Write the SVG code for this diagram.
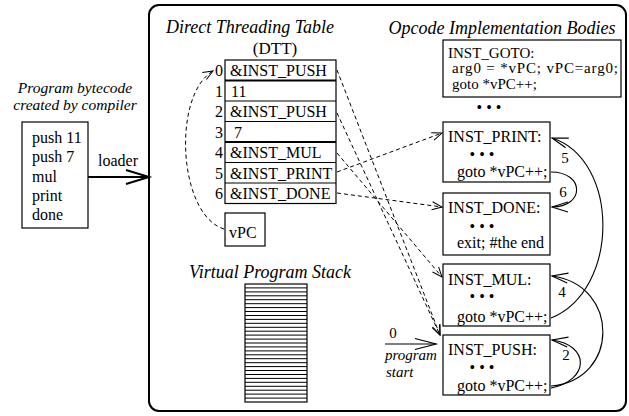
<svg xmlns="http://www.w3.org/2000/svg" width="629" height="416" viewBox="0 0 629 416">
<defs>
<style>
text{font-family:"Liberation Serif","Times New Roman",serif;fill:#000}
.t{font-size:16px}
.it{font-style:italic}
.ti{font-size:18px;font-style:italic}
.n{font-size:15px;text-anchor:middle}
.box{fill:#fff;stroke:#000;stroke-width:1.2}
.dash{fill:none;stroke:#000;stroke-width:1;stroke-dasharray:4,3}
.cur{fill:none;stroke:#000;stroke-width:1.1}
.dots{font-size:16px;text-anchor:middle}
</style>
<marker id="ad" markerUnits="userSpaceOnUse" markerWidth="12" markerHeight="10" refX="10" refY="4" orient="auto" overflow="visible">
<path d="M0,0 L10,4 L0,8" fill="none" stroke="#000" stroke-width="1"/>
</marker>
<marker id="ac" markerUnits="userSpaceOnUse" markerWidth="18" markerHeight="12" refX="16" refY="5" orient="auto" overflow="visible">
<path d="M0,0 L16,5 L0,10" fill="none" stroke="#000" stroke-width="1.1"/>
</marker>
<marker id="ab" markerUnits="userSpaceOnUse" markerWidth="26" markerHeight="16" refX="23" refY="7" orient="auto" overflow="visible">
<path d="M0,0 L23,7 L0,14" fill="none" stroke="#000" stroke-width="2"/>
</marker>
<marker id="as" markerUnits="userSpaceOnUse" markerWidth="24" markerHeight="14" refX="21" refY="5.5" orient="auto" overflow="visible">
<path d="M0,0 L21,5.5 L0,11" fill="none" stroke="#000" stroke-width="1.2"/>
</marker>
</defs>

<g id="frame">
<rect x="149" y="5" width="477" height="406" rx="10" ry="10" fill="none" stroke="#000" stroke-width="2"/>
</g>

<g id="bytecode">
<text class="it" x="75" y="93" text-anchor="middle" style="font-size:15.5px">Program bytecode</text>
<text class="it" x="75" y="110" text-anchor="middle" style="font-size:15.5px">created by compiler</text>
<rect class="box" x="22" y="122" width="66" height="106"/>
<text class="t" x="32" y="143">push 11</text>
<text class="t" x="32" y="162">push 7</text>
<text class="t" x="32" y="182">mul</text>
<text class="t" x="32" y="201">print</text>
<text class="t" x="32" y="220">done</text>
</g>

<g id="dtt">
<text class="ti" x="250" y="33" text-anchor="middle">Direct Threading Table</text>
<text x="275" y="54" text-anchor="middle" style="font-size:17px">(DTT)</text>
<rect class="box" x="225" y="60" width="111" height="143.5"/>
<line x1="225" y1="80.5" x2="336" y2="80.5" stroke="#000" stroke-width="2"/>
<line x1="225" y1="101" x2="336" y2="101" stroke="#000" stroke-width="1.2"/>
<line x1="225" y1="121.5" x2="336" y2="121.5" stroke="#000" stroke-width="1.2"/>
<line x1="225" y1="142" x2="336" y2="142" stroke="#000" stroke-width="2"/>
<line x1="225" y1="162.5" x2="336" y2="162.5" stroke="#000" stroke-width="1.2"/>
<line x1="225" y1="183" x2="336" y2="183" stroke="#000" stroke-width="1.2"/>
<text class="t" x="223" y="76" text-anchor="end">0</text>
<text class="t" x="223" y="96.5" text-anchor="end">1</text>
<text class="t" x="223" y="117" text-anchor="end">2</text>
<text class="t" x="223" y="137.5" text-anchor="end">3</text>
<text class="t" x="223" y="158" text-anchor="end">4</text>
<text class="t" x="223" y="178.5" text-anchor="end">5</text>
<text class="t" x="223" y="199" text-anchor="end">6</text>
<text class="t" x="230" y="76">&amp;INST_PUSH</text>
<text class="t" x="231" y="96.5">11</text>
<text class="t" x="230" y="117">&amp;INST_PUSH</text>
<text class="t" x="234" y="137.5">7</text>
<text class="t" x="230" y="158">&amp;INST_MUL</text>
<text class="t" x="230" y="178.5">&amp;INST_PRINT</text>
<text class="t" x="230" y="199">&amp;INST_DONE</text>
</g>

<g id="vpc">
<rect class="box" x="225" y="213" width="40" height="33"/>
<text class="t" x="229" y="238">vPC</text>
</g>

<g id="stack">
<text class="ti" x="270" y="278" text-anchor="middle">Virtual Program Stack</text>
<rect x="245" y="284" width="62" height="118" fill="#fff" stroke="#000" stroke-width="1.2"/>
<path stroke="#000" stroke-width="1" fill="none" d="M245,287.9H307M245,291.9H307M245,295.8H307M245,299.7H307M245,303.7H307M245,307.6H307M245,311.5H307M245,315.5H307M245,319.4H307M245,323.3H307M245,327.3H307M245,331.2H307M245,335.1H307M245,339.1H307M245,343H307M245,346.9H307M245,350.9H307M245,354.8H307M245,358.7H307M245,362.7H307M245,366.6H307M245,370.5H307M245,374.5H307M245,378.4H307M245,382.3H307M245,386.3H307M245,390.2H307M245,394.1H307M245,398.1H307"/>
</g>

<g id="opcodes-title">
<text class="ti" x="502" y="34" text-anchor="middle">Opcode Implementation Bodies</text>
</g>

<g id="inst-goto">
<rect class="box" x="443" y="40" width="178" height="57"/>
<text x="448" y="58" style="font-size:15px">INST_GOTO:</text>
<text x="452" y="73" style="font-size:15px" textLength="166" lengthAdjust="spacing">arg0 = *vPC; vPC=arg0;</text>
<text x="452" y="89" style="font-size:15px">goto *vPC++;</text>
</g>
<text class="dots" x="489" y="113">• • •</text>

<g id="inst-print">
<rect class="box" x="443" y="122" width="107" height="60"/>
<text class="t" x="448" y="142">INST_PRINT:</text>
<text class="dots" x="482" y="160">• • •</text>
<text class="t" x="457" y="177">goto *vPC++;</text>
</g>

<g id="inst-done">
<rect class="box" x="443" y="193" width="107" height="62"/>
<text class="t" x="448" y="213">INST_DONE:</text>
<text class="dots" x="482" y="232">• • •</text>
<text class="t" x="457" y="248">exit; #the end</text>
</g>

<g id="inst-mul">
<rect class="box" x="443" y="264" width="107" height="62"/>
<text class="t" x="448" y="285">INST_MUL:</text>
<text class="dots" x="482" y="302">• • •</text>
<text class="t" x="457" y="322">goto *vPC++;</text>
</g>

<g id="inst-push">
<rect class="box" x="443" y="335" width="107" height="60"/>
<text class="t" x="448" y="355">INST_PUSH:</text>
<text class="dots" x="482" y="373">• • •</text>
<text class="t" x="457" y="391">goto *vPC++;</text>
</g>

<g id="start">
<text x="393" y="338" text-anchor="middle" style="font-size:15px">0</text>
<text class="it" x="385" y="360" style="font-size:15px">program</text>
<text class="it" x="386" y="377" style="font-size:15px">start</text>
</g>

<g id="connectors">
<line x1="88" y1="177" x2="149" y2="177" stroke="#000" stroke-width="2" marker-end="url(#ab)"/>
<text class="t" x="98" y="166">loader</text>
<line x1="385" y1="344" x2="436" y2="344" stroke="#000" stroke-width="1.2" marker-end="url(#as)"/>
<path class="dash" d="M224,229 C178,215 172,95 213,71" marker-end="url(#ad)"/>
<path class="dash" d="M337,70 L440,335" marker-end="url(#ad)"/>
<path class="dash" d="M337,113 L440,335" marker-end="url(#ad)"/>
<path class="dash" d="M337,153 L442,277" marker-end="url(#ad)"/>
<path class="dash" d="M337,172 L442,133" marker-end="url(#ad)"/>
<path class="dash" d="M337,193 L442,207" marker-end="url(#ad)"/>
<path class="cur" d="M551,172 C585,172 585,207 552,207" marker-end="url(#ac)"/>
<path class="cur" d="M551,318 C620,290 620,160 552,138" marker-end="url(#ac)"/>
<path class="cur" d="M551,386 C620,380 620,285 552,276" marker-end="url(#ac)"/>
<path class="cur" d="M551,388 C590,380 590,345 552,340" marker-end="url(#ac)"/>
<text class="n" x="565" y="163">5</text>
<text class="n" x="563" y="197">6</text>
<text class="n" x="562" y="297">4</text>
<text class="n" x="566" y="360">2</text>
</g>
</svg>
